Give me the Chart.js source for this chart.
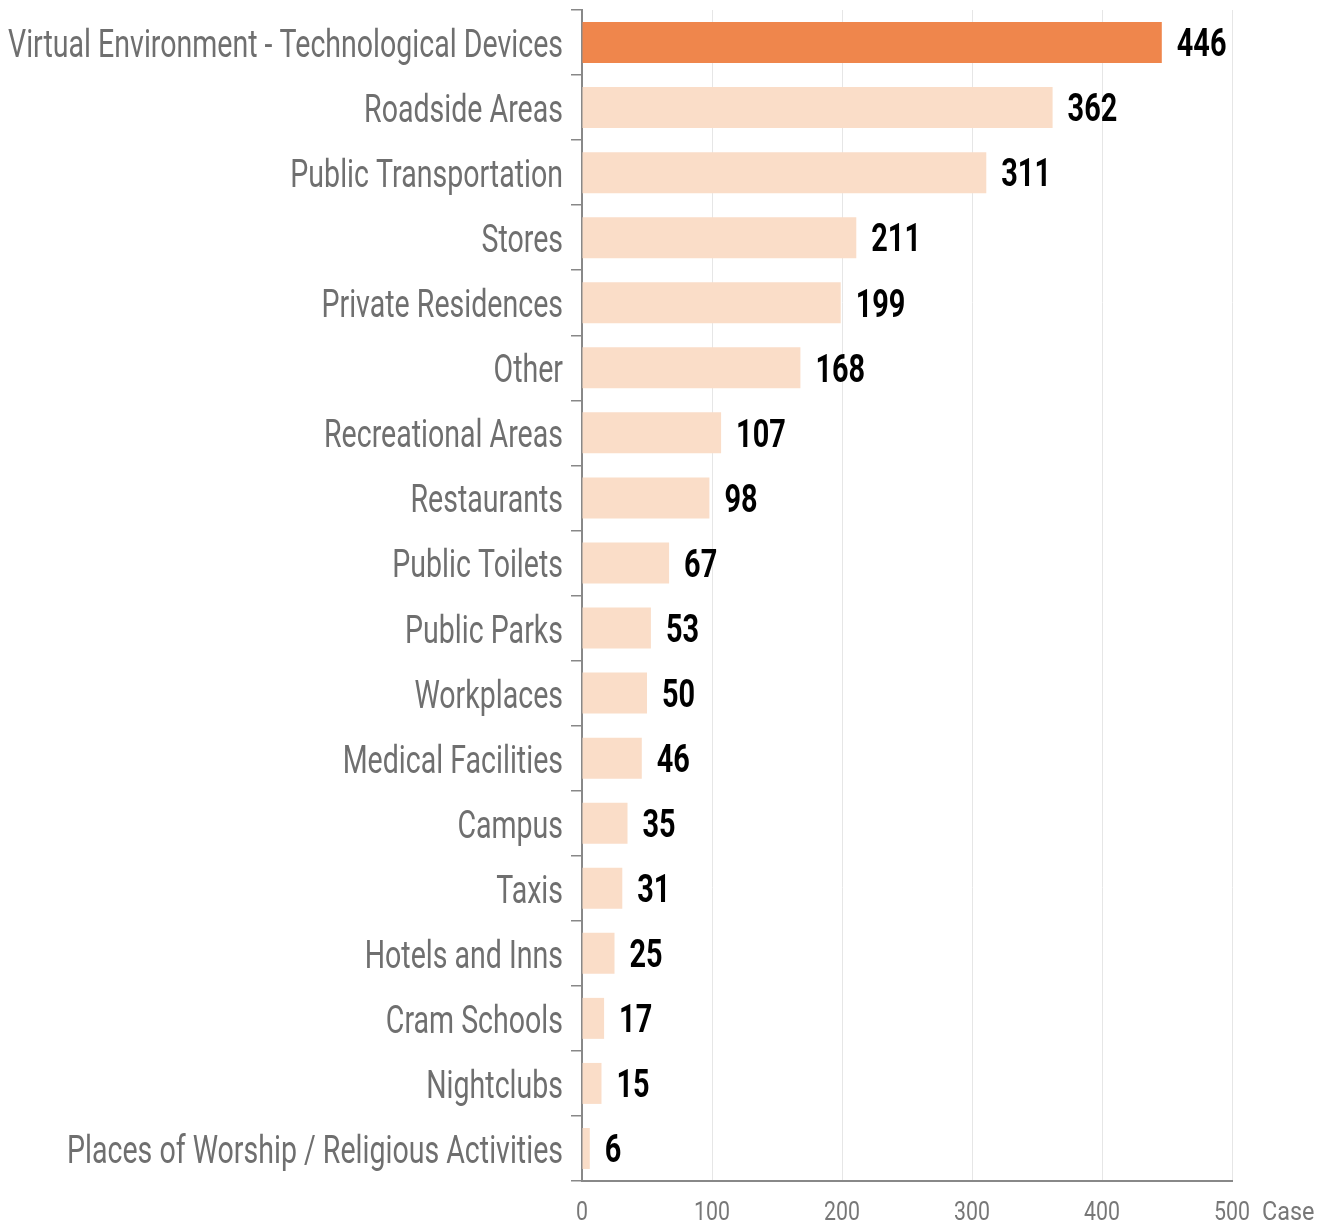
<!DOCTYPE html>
<html>
<head>
<meta charset="utf-8">
<script src="https://cdn.jsdelivr.net/npm/chart.js@4"></script>
<style>
  html, body { margin: 0; padding: 0; background: #fff; }
  #wrap { width: 1336px; height: 1225px; }
</style>
</head>
<body>
<div id="wrap"><canvas id="chart" width="1336" height="1225"></canvas></div>
<script>
const places = [
  'Virtual Environment - Technological Devices', 'Roadside Areas', 'Public Transportation', 'Stores',
  'Private Residences', 'Other', 'Recreational Areas', 'Restaurants', 'Public Toilets', 'Public Parks',
  'Workplaces', 'Medical Facilities', 'Campus', 'Taxis', 'Hotels and Inns', 'Cram Schools',
  'Nightclubs', 'Places of Worship / Religious Activities',
];
const cases = [446, 362, 311, 211, 199, 168, 107, 98, 67, 53, 50, 46, 35, 31, 25, 17, 15, 6];
const xTicks = [0, 100, 200, 300, 400, 500];
const unitLabel = 'Case';

const FONT = "Roboto, 'Liberation Sans', sans-serif";
const HIGHLIGHT = '#EF864C', PALE = '#FADDC8';

// no narrow face is installed, so the condensed look is made by squeezing text horizontally
function narrowText(ctx, text, x, y, sx, align) {
  ctx.save();
  ctx.translate(x, y);
  ctx.scale(sx, 1);
  ctx.textAlign = align;
  ctx.fillText(text, 0, 0);
  ctx.restore();
}

const textLayer = {
  id: 'textLayer',
  afterDraw(chart) {
    const { ctx } = chart;
    const x = chart.scales.x, y = chart.scales.y;
    ctx.save();
    ctx.textBaseline = 'middle';

    // category labels
    ctx.font = `38px ${FONT}`;
    ctx.fillStyle = '#6f6f6f';
    const widest = Math.max(...places.map((p) => ctx.measureText(p).width));
    const sxLabel = 555 / widest;
    places.forEach((p, i) => narrowText(ctx, p, y.right - 19, y.getPixelForTick(i) + 5, sxLabel, 'right'));

    // values at bar ends
    ctx.font = `bold 39px ${FONT}`;
    ctx.fillStyle = '#000';
    chart.getDatasetMeta(0).data.forEach((bar, i) => narrowText(ctx, String(cases[i]), bar.x + 15, bar.y + 4, 0.74, 'left'));

    // x ticks and unit
    const axisY = x.top;
    ctx.font = `26px ${FONT}`;
    ctx.fillStyle = '#777';
    xTicks.forEach((v) => narrowText(ctx, String(v), x.getPixelForValue(v), axisY + 32, 0.82, 'center'));
    narrowText(ctx, unitLabel, x.right + 30, axisY + 32, 0.9, 'left');
    ctx.restore();
  },
};

new Chart(document.getElementById('chart'), {
  type: 'bar',
  data: {
    labels: places,
    datasets: [{
      data: cases,
      backgroundColor: cases.map((v, i) => (i === 0 ? HIGHLIGHT : PALE)),
      categoryPercentage: 0.63, barPercentage: 1,
    }],
  },
  options: {
    indexAxis: 'y', responsive: false, animation: false,
    layout: { padding: { top: 10, right: 104, bottom: 0, left: 0 } },
    plugins: { legend: { display: false }, tooltip: { enabled: false } },
    scales: {
      x: {
        min: 0, max: 500,
        afterBuildTicks: (s) => { s.ticks = xTicks.map((v) => ({ value: v })); },
        afterFit: (s) => { s.height = 44; },
        grid: { color: '#e6e6e6', lineWidth: 1, drawTicks: false },
        border: { color: '#888', width: 2 },
        ticks: { display: false },
      },
      y: {
        afterFit: (s) => { s.width = 582; },
        grid: { drawOnChartArea: false, drawTicks: true, tickLength: 11, color: '#888', lineWidth: 1.5 },
        border: { color: '#888', width: 2 },
        ticks: { display: false },
      },
    },
  },
  plugins: [textLayer],
});
</script>
</body>
</html>
